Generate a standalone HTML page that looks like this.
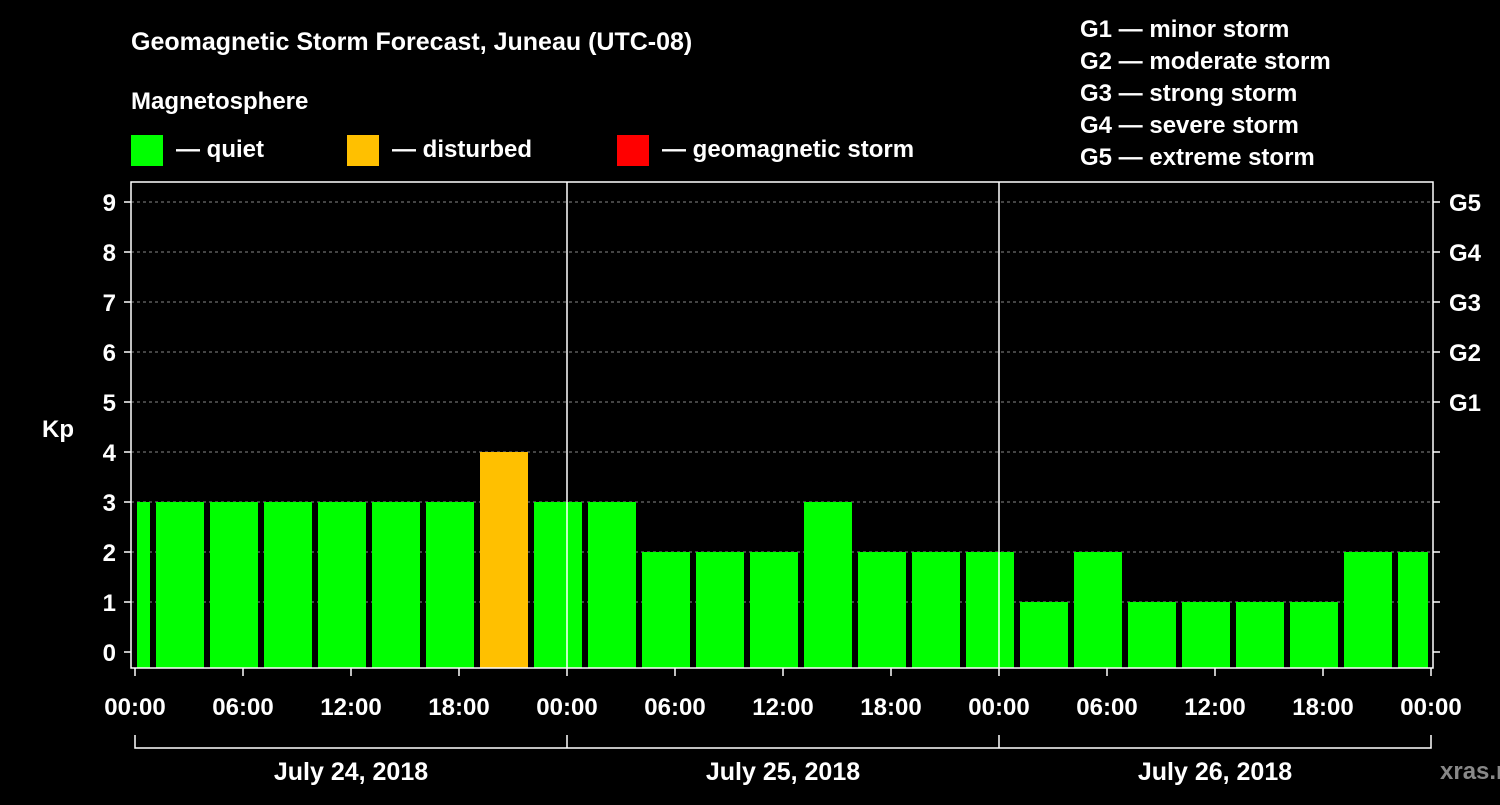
<!DOCTYPE html>
<html><head><meta charset="utf-8"><style>
body{margin:0;background:#000;width:1500px;height:800px;overflow:hidden}
svg text{font-family:"Liberation Sans",sans-serif;font-weight:bold;fill:#fff}
</style></head><body>
<svg id="c" width="1500" height="800">
<text x="131" y="50" font-size="25">Geomagnetic Storm Forecast, Juneau (UTC-08)</text>
<text x="131" y="109" font-size="24">Magnetosphere</text>
<g><rect x="131" y="135" width="32" height="31" fill="#00ff00"/><text x="176" y="157" font-size="24">— quiet</text></g>
<g><rect x="347" y="135" width="32" height="31" fill="#ffc000"/><text x="392" y="157" font-size="24">— disturbed</text></g>
<g><rect x="617" y="135" width="32" height="31" fill="#ff0000"/><text x="662" y="157" font-size="24">— geomagnetic storm</text></g>
<g font-size="24">
<text x="1080" y="37">G1 — minor storm</text><text x="1080" y="69">G2 — moderate storm</text><text x="1080" y="101">G3 — strong storm</text><text x="1080" y="133">G4 — severe storm</text><text x="1080" y="165">G5 — extreme storm</text></g>
<text x="42" y="437" font-size="24">Kp</text>
<text x="1440" y="779" font-size="24" fill="#888" style="fill:#888">xras.ru</text>
<g id="g"></g>
</svg>
<script>
const kpValues=[3,3,3,3,3,3,3,4,3,3,2,2,2,3,2,2,2,1,2,1,1,1,1,2,2];
const binStartHour=-2, binHours=3;
const yTicks=[0,1,2,3,4,5,6,7,8,9];
const gLabels=["G1","G2","G3","G4","G5"];
const xTickLabels=["00:00","06:00","12:00","18:00","00:00","06:00","12:00","18:00","00:00","06:00","12:00","18:00","00:00"];
const dayLabels=["July 24, 2018","July 25, 2018","July 26, 2018"];
const X0=135,PXH=18,XMAX=1431,YB=668;
const x=h=>X0+h*PXH;
const y=v=>652-50*v;
const g=document.getElementById('g');
const NS="http://www.w3.org/2000/svg";
function mk(t,a,txt){const e=document.createElementNS(NS,t);for(const k in a)e.setAttribute(k,a[k]);if(txt!==undefined)e.textContent=txt;g.appendChild(e);return e;}
yTicks.forEach(v=>{
 if(v>0){const l=mk('line',{x1:131,x2:1433,y1:y(v),y2:y(v),stroke:'#888','stroke-dasharray':'3,3'});
 
 }
 const t=mk('line',{x1:124,x2:131,y1:y(v),y2:y(v),stroke:'#fff','stroke-width':1.5});
 
 
 const t2=mk('line',{x1:1433,x2:1440,y1:y(v),y2:y(v),stroke:'#fff','stroke-width':1.5});
 
 
 const lb=mk('text',{x:116,y:y(v)+9,'font-size':24,'text-anchor':'end'},String(v));
 
 
});
gLabels.forEach((s,i)=>{
 const t=mk('text',{x:1449,y:y(i+5)+9,'font-size':24},s);
 
 
});
kpValues.forEach((v,i)=>{
 let a=x(binStartHour+i*binHours)+3,b=x(binStartHour+(i+1)*binHours)-3;
 a=Math.max(a,137);b=Math.min(b,1428);
 const c=v>=5?'#ff0000':(v>=4?'#ffc000':'#00ff00');
 const r=mk('rect',{x:a,y:y(v),width:b-a,height:YB-y(v),fill:c});
 
 
});
const fr=mk('rect',{x:131,y:182,width:1302,height:486,fill:'none',stroke:'#fff','stroke-width':1.5});


[1,2].forEach(d=>{
 const l=mk('line',{x1:x(24*d),x2:x(24*d),y1:182,y2:668,stroke:'#fff','stroke-width':1.5});
 
 
});
xTickLabels.forEach((s,i)=>{
 const t=mk('line',{x1:x(i*6),x2:x(i*6),y1:668,y2:676,stroke:'#fff','stroke-width':1.5});
 
 
 const lb=mk('text',{x:x(i*6),y:715,'font-size':24,'text-anchor':'middle'},s);
 
 
});
const br=mk('path',{d:`M${x(0)},735V748H${x(72)}V735M${x(24)},748V735M${x(48)},748V735`,stroke:'#fff','stroke-width':1.5,fill:'none'});


dayLabels.forEach((s,i)=>{
 const t=mk('text',{x:x(24*i+12),y:780,'font-size':25,'text-anchor':'middle'},s);
 
 
});
</script>
</body></html>
